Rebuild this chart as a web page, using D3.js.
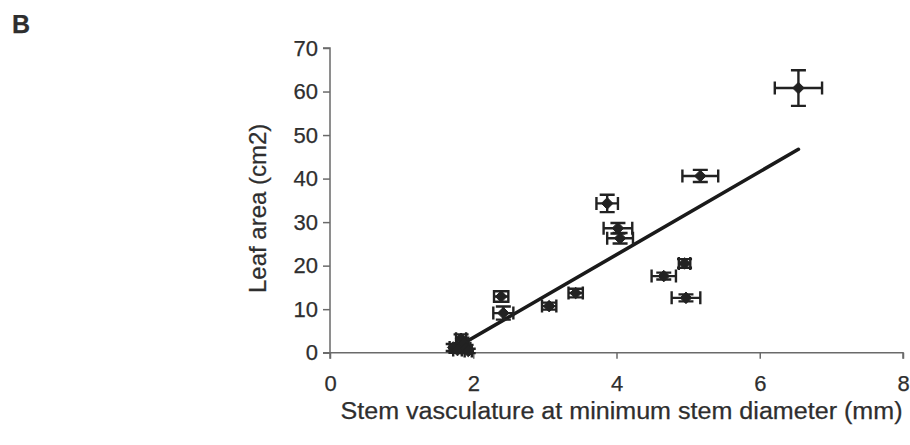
<!DOCTYPE html>
<html>
<head>
<meta charset="utf-8">
<script src="https://cdn.jsdelivr.net/npm/d3@7"></script>
<style>
  html, body { margin: 0; padding: 0; background: #fff; }
  svg { display: block; }
  text { font-family: "Liberation Sans", Arial, sans-serif; fill: #2e2e2e; stroke: #2e2e2e; stroke-width: 0.25px; }
</style>
</head>
<body>
<svg id="chart" width="910" height="445"></svg>
<script>
// Stem vasculature (mm) vs leaf area (cm2), means with error bars
const stemVasculature = [6.54, 5.17, 3.87, 4.02, 4.05, 4.95, 4.66, 4.97, 3.43, 3.06, 2.39, 2.42, 1.72, 1.78, 1.83, 1.87, 1.90, 1.93];
const leafArea        = [60.8, 40.6, 34.3, 28.6, 26.3, 20.5, 17.6, 12.6, 13.7, 10.7, 12.9, 9.1, 1.2, 0.6, 3.2, 2.2, 1.0, 0.4];
const stemError       = [0.33, 0.25, 0.15, 0.20, 0.18, 0.08, 0.17, 0.20, 0.10, 0.10, 0.10, 0.14, 0.05, 0.06, 0.07, 0.06, 0.06, 0.05];
const leafError       = [4.1, 1.4, 2.0, 1.2, 1.2, 1.0, 0.8, 0.8, 1.0, 0.8, 1.2, 1.5, 0.8, 0.6, 1.0, 0.8, 0.8, 0.5];

// Linear trend line: leaf = slope * stem + intercept
const trendSlope = 9.53;
const trendIntercept = -15.6;

const xTicks = [0, 2, 4, 6, 8];
const yTicks = [0, 10, 20, 30, 40, 50, 60, 70];
const panelLabel = "B";
const xTitle = "Stem vasculature at minimum stem diameter (mm)";
const yTitle = "Leaf area (cm2)";

const svg = d3.select("#chart");
const x = d3.scaleLinear().domain([0, 8]).range([330, 903]);
const y = d3.scaleLinear().domain([0, 70]).range([352.7, 48]);

const axisColor = "#6a6a6a";
const markColor = "#222";

// Panel letter
svg.append("text").attr("x", 12).attr("y", 33)
  .attr("font-size", 25).attr("font-weight", "bold")
  .text(panelLabel);

// Y axis
const yAxis = svg.append("g").attr("transform", `translate(${x(0)},0)`)
  .call(d3.axisLeft(y).tickValues(yTicks).tickSize(7).tickPadding(5).tickFormat(d3.format("d")));
// X axis
const xAxis = svg.append("g").attr("transform", `translate(0,${y(0)})`)
  .call(d3.axisBottom(x).tickValues(xTicks).tickSize(6).tickPadding(17).tickFormat(d3.format("d")));

[yAxis, xAxis].forEach(g => {
  g.select(".domain").attr("stroke", axisColor).attr("stroke-width", 1.5);
  g.selectAll(".tick line").attr("stroke", axisColor).attr("stroke-width", 1.5);
  g.selectAll(".tick text").attr("font-size", 22)
    .attr("font-family", "'Liberation Sans', Arial, sans-serif");
});
// Outer ticks on the domain paths are replaced by plain axis lines
xAxis.select(".domain").attr("d", `M${x(0) - 7},0H${x(8)}V6`);
yAxis.select(".domain").attr("d", `M0,${y(0) + 6}V${y(70)}H-7`);

// Axis titles
svg.append("text").attr("x", (x(0) + x(8)) / 2 + 5).attr("y", 419)
  .attr("text-anchor", "middle").attr("font-size", 23)
  .attr("textLength", 562).attr("lengthAdjust", "spacingAndGlyphs").text(xTitle);
svg.append("text")
  .attr("transform", `translate(266,${(y(0) + y(70)) / 2 + 8}) rotate(-90)`)
  .attr("text-anchor", "middle").attr("font-size", 24).text(yTitle);

// Trend line across the data range
const xMin = d3.min(stemVasculature), xMax = d3.max(stemVasculature);
svg.append("line")
  .attr("x1", x(xMin)).attr("y1", y(trendSlope * xMin + trendIntercept))
  .attr("x2", x(xMax)).attr("y2", y(trendSlope * xMax + trendIntercept))
  .attr("stroke", "#1a1a1a").attr("stroke-width", 3.6).attr("stroke-linecap", "round");

// Points with error bars
const pts = stemVasculature.map((v, i) => ({ sx: v, la: leafArea[i], se: stemError[i], le: leafError[i] }));
const g = svg.append("g").attr("stroke", markColor).attr("stroke-width", 2.4);
const capH = 6.5, capW = 7.5;
pts.forEach(p => {
  const cx = x(p.sx), cy = y(p.la);
  const x0 = x(p.sx - p.se), x1 = x(p.sx + p.se);
  const y0 = y(p.la - p.le), y1 = y(p.la + p.le);
  g.append("path").attr("fill", "none")
    .attr("d", `M${x0},${cy}H${x1}M${x0},${cy - capH}V${cy + capH}M${x1},${cy - capH}V${cy + capH}`);
  g.append("path").attr("fill", "none")
    .attr("d", `M${cx},${y0}V${y1}M${cx - capW},${y0}H${cx + capW}M${cx - capW},${y1}H${cx + capW}`);
});
svg.append("g").selectAll("path").data(pts).join("path")
  .attr("transform", d => `translate(${x(d.sx)},${y(d.la)})`)
  .attr("d", d3.symbol(d3.symbolDiamond2, 85)())
  .attr("fill", markColor).attr("stroke", markColor).attr("stroke-width", 1);
</script>
</body>
</html>
